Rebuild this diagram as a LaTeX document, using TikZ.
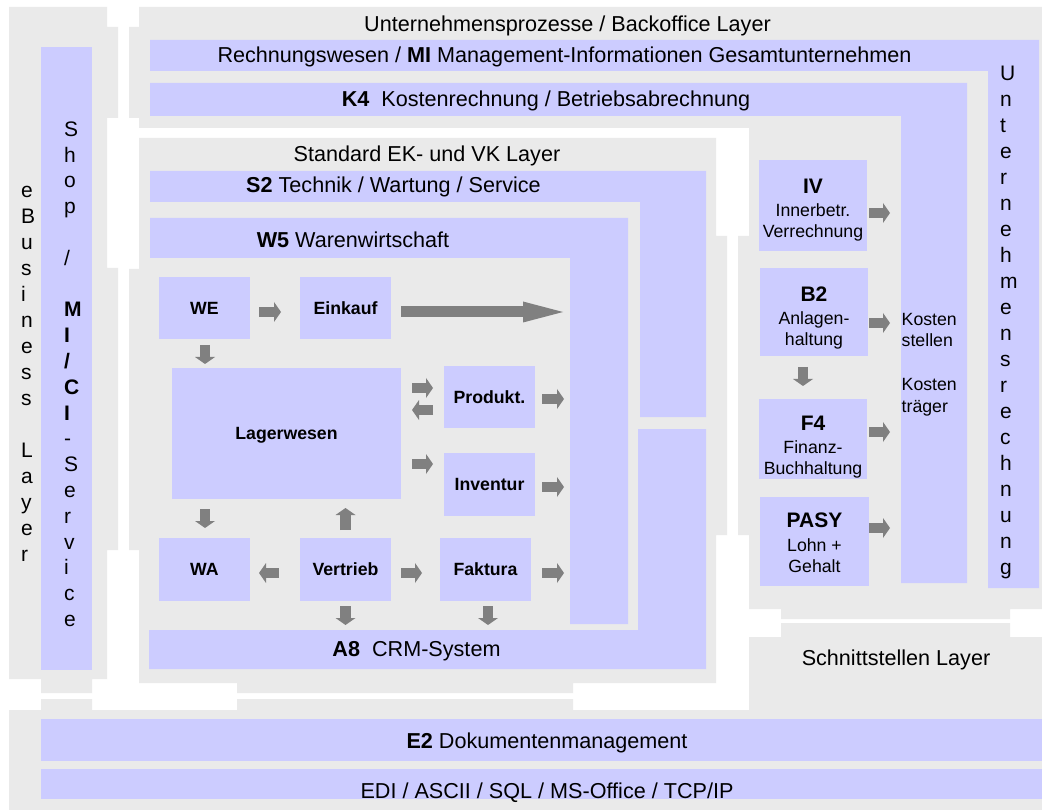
\documentclass[tikz,border=0pt]{standalone}
\usepackage{fontspec}
\setmainfont{Liberation Sans}
\usetikzlibrary{arrows.meta}
\definecolor{lgray}{RGB}{234,234,234}
\definecolor{lav}{RGB}{204,204,255}
\definecolor{agray}{RGB}{128,128,128}
\tikzset{
  box/.style={fill=lav, inner sep=0pt, outer sep=0pt, font=\fontsize{17.7}{21.7}\selectfont\bfseries, text height=12.7pt, text depth=0pt},
  rbox/.style={fill=lav, inner sep=0pt, outer sep=0pt, align=center, font=\fontsize{17.7}{21.7}\selectfont},
  big/.style={font=\fontsize{21.6}{26}\selectfont, inner sep=0pt, anchor=base},
  col/.style={font=\fontsize{21}{26}\selectfont, inner sep=0pt, align=left, anchor=north west},
  blk/.style={draw=agray, line width=10.5pt, -{Triangle[length=7pt,width=20pt,line width=0pt]}},
  bigarrow/.style={draw=agray, line width=11pt, -{Triangle[length=40pt,width=21pt,line width=0pt]}},
}
\begin{document}
\begin{tikzpicture}[x=1pt,y=-1pt]
\useasboundingbox (0,0) rectangle (1042,810);
\fill[white] (0,0) rectangle (1042,810);
% gray layers
\fill[lgray] (9,7) -- (107,7) -- (107,27) -- (118,27) -- (118,118) -- (107,118) -- (107,268) -- (118,268) -- (118,550) -- (107,550) -- (107,679) -- (92,679) -- (92,693) -- (41,693) -- (41,679) -- (9,679) -- cycle;
\fill[lgray] (139,7) -- (1042,7) -- (1042,609) -- (1010,609) -- (1010,619) -- (781,619) -- (781,609) -- (749,609) -- (749,535) -- (738,535) -- (738,236) -- (749,236) -- (749,128) -- (139,128) -- (139,118) -- (129,118) -- (129,27) -- (139,27) -- cycle;
\fill[lgray] (139,138) -- (716,138) -- (716,236) -- (727,236) -- (727,535) -- (716,535) -- (716,683) -- (573,683) -- (573,693) -- (237,693) -- (237,683) -- (139,683) -- (139,550) -- (129,550) -- (129,269) -- (139,269) -- cycle;
\fill[lgray] (9,810) -- (9,710) -- (41,710) -- (41,699) -- (92,699) -- (92,710) -- (237,710) -- (237,699) -- (573,699) -- (573,710) -- (749,710) -- (749,637) -- (781,637) -- (781,623) -- (1010,623) -- (1010,637) -- (1042,637) -- (1042,810) -- cycle;
% lavender bars
\fill[lav] (41,47) rectangle (92,670);
\fill[lav] (150,40) -- (1039,40) -- (1039,588) -- (988,588) -- (988,71) -- (150,71) -- cycle;
\fill[lav] (150,83) -- (967,83) -- (967,583) -- (901,583) -- (901,116) -- (150,116) -- cycle;
\fill[lav] (150,171) -- (706,171) -- (706,417) -- (640,417) -- (640,202) -- (150,202) -- cycle;
\fill[lav] (150,218) -- (628,218) -- (628,624) -- (570,624) -- (570,258) -- (150,258) -- cycle;
\fill[lav] (149,630) -- (638,630) -- (638,429) -- (706,429) -- (706,669) -- (149,669) -- cycle;
\fill[lav] (41,719) rectangle (1042,761);
\fill[lav] (41,769) rectangle (1042,799);
% layer texts
\node[big] (tup) at (567.5,32) {Unternehmensprozesse / Backoffice Layer};
\node[big] (tmi) at (564.5,63) {Rechnungswesen / \textbf{MI} Management-Informationen Gesamtunternehmen};
\node[big] (tk4) at (546,107) {\textbf{K4}\hspace{0.556em}Kostenrechnung / Betriebsabrechnung};
\node[big] (tstd) at (427,162) {Standard EK- und VK Layer};
\node[big] (ts2) at (393.5,193) {\textbf{S2} Technik / Wartung / Service};
\node[big] (tw5) at (353,248) {\textbf{W5} Warenwirtschaft};
\node[big] (ta8) at (416.5,656) {\textbf{A8}\hspace{0.556em}CRM-System};
\node[big] (tsch) at (896,665) {Schnittstellen Layer};
\node[big] (te2) at (547,748) {\textbf{E2} Dokumentenmanagement};
\node[big] (tedi) at (547,798) {EDI / ASCII / SQL / MS-Office / TCP/IP};
\node[font=\fontsize{17.7}{21.7}\selectfont, align=left, anchor=north west, inner sep=0pt] (tks) at (901.5,312) {\rule{0pt}{13pt}Kosten\\stellen\\[21.7pt]Kosten\\träger};
% vertical columns
\node[col] (tebus) at (21,181.5) {\rule{0pt}{16pt}e\\B\\u\\s\\i\\n\\e\\s\\s\\[26pt]L\\a\\y\\e\\r};
\node[col, font=\fontsize{21}{25.8}\selectfont] (tshop) at (64,120) {\rule{0pt}{16pt}S\\h\\o\\p\\[25.8pt]/\\[25.8pt]\textbf{M}\\\textbf{I}\\\textbf{/}\\\textbf{C}\\\textbf{I}\\-\\S\\e\\r\\v\\i\\c\\e};
\node[col] (tur) at (1000,64) {\rule{0pt}{16pt}U\\n\\t\\e\\r\\n\\e\\h\\m\\e\\n\\s\\r\\e\\c\\h\\n\\u\\n\\g};
% boxes
\node[box, minimum width=91pt, minimum height=62pt] (WE) at (204.5,308) {WE};
\node[box, minimum width=91pt, minimum height=62pt] (Eink) at (345.5,308) {Einkauf};
\node[box, minimum width=229pt, minimum height=131pt] (Lager) at (286.5,433.5) {Lagerwesen};
\node[box, minimum width=91pt, minimum height=62pt] (Prod) at (489.5,397) {Produkt.};
\node[box, minimum width=91pt, minimum height=63pt] (Inv) at (489.5,484.5) {Inventur};
\node[box, minimum width=91pt, minimum height=63pt] (WA) at (204.5,569.5) {WA};
\node[box, minimum width=91pt, minimum height=63pt] (Vert) at (345.5,569.5) {Vertrieb};
\node[box, minimum width=91pt, minimum height=63pt] (Fak) at (485.5,569.5) {Faktura};
\node[rbox, minimum width=108pt, minimum height=91pt] (IV) at (813,205.5) {\rule{0pt}{23.6pt}{\fontsize{21}{21.7}\selectfont\bfseries IV}\\[1.5pt]Innerbetr.\\Verrechnung};
\node[rbox, minimum width=108pt, minimum height=88pt] (B2) at (814,312) {\rule{0pt}{26.6pt}{\fontsize{21}{21.7}\selectfont\bfseries B2}\\[1.5pt]Anlagen-\\haltung};
\node[rbox, minimum width=108pt, minimum height=80pt] (F4) at (813,439) {\rule{0pt}{30.6pt}{\fontsize{21}{21.7}\selectfont\bfseries F4}\\[1.5pt]Finanz-\\Buchhaltung};
\node[rbox, minimum width=109pt, minimum height=89pt] (PASY) at (814.5,541.5) {\rule{0pt}{17.9pt}{\fontsize{21}{21.7}\selectfont\bfseries PASY}\\[1.5pt]Lohn +\\Gehalt};
% arrows
\draw[blk] ([shift={(9,4)}]WE.east) -- ++(22,0);
\draw[bigarrow] ([shift={(10,4)}]Eink.east) -- ++(162,0);
\draw[blk] ([shift={(0.5,6)}]WE.south) -- ++(0,19);
\draw[blk] ([shift={(-32,-9)}]Prod.west) -- ++(21,0);
\draw[blk] ([shift={(-11,13)}]Prod.west) -- ++(-21,0);
\draw[blk] ([shift={(-32,-20.5)}]Inv.west) -- ++(21,0);
\draw[blk] ([shift={(7,2)}]Prod.east) -- ++(22,0);
\draw[blk] ([shift={(7,2.5)}]Inv.east) -- ++(22,0);
\draw[blk] ([shift={(0.5,-29)}]WA.north) -- ++(0,19);
\draw[blk] ([shift={(0,-8)}]Vert.north) -- ++(0,-22);
\draw[blk] ([shift={(-21,3.5)}]Vert.west) -- ++(-20,0);
\draw[blk] ([shift={(10,3.5)}]Vert.east) -- ++(21,0);
\draw[blk] ([shift={(11,3.5)}]Fak.east) -- ++(22,0);
\draw[blk] ([shift={(0,5)}]Vert.south) -- ++(0,19);
\draw[blk] ([shift={(2.5,5)}]Fak.south) -- ++(0,19);
\draw[blk] ([shift={(2,7.5)}]IV.east) -- ++(21,0);
\draw[blk] ([shift={(1,11)}]B2.east) -- ++(21,0);
\draw[blk] ([shift={(-11,11)}]B2.south) -- ++(0,19);
\draw[blk] ([shift={(2,-7)}]F4.east) -- ++(21,0);
\draw[blk] ([shift={(0,-13.5)}]PASY.east) -- ++(21,0);
\end{tikzpicture}
\end{document}
